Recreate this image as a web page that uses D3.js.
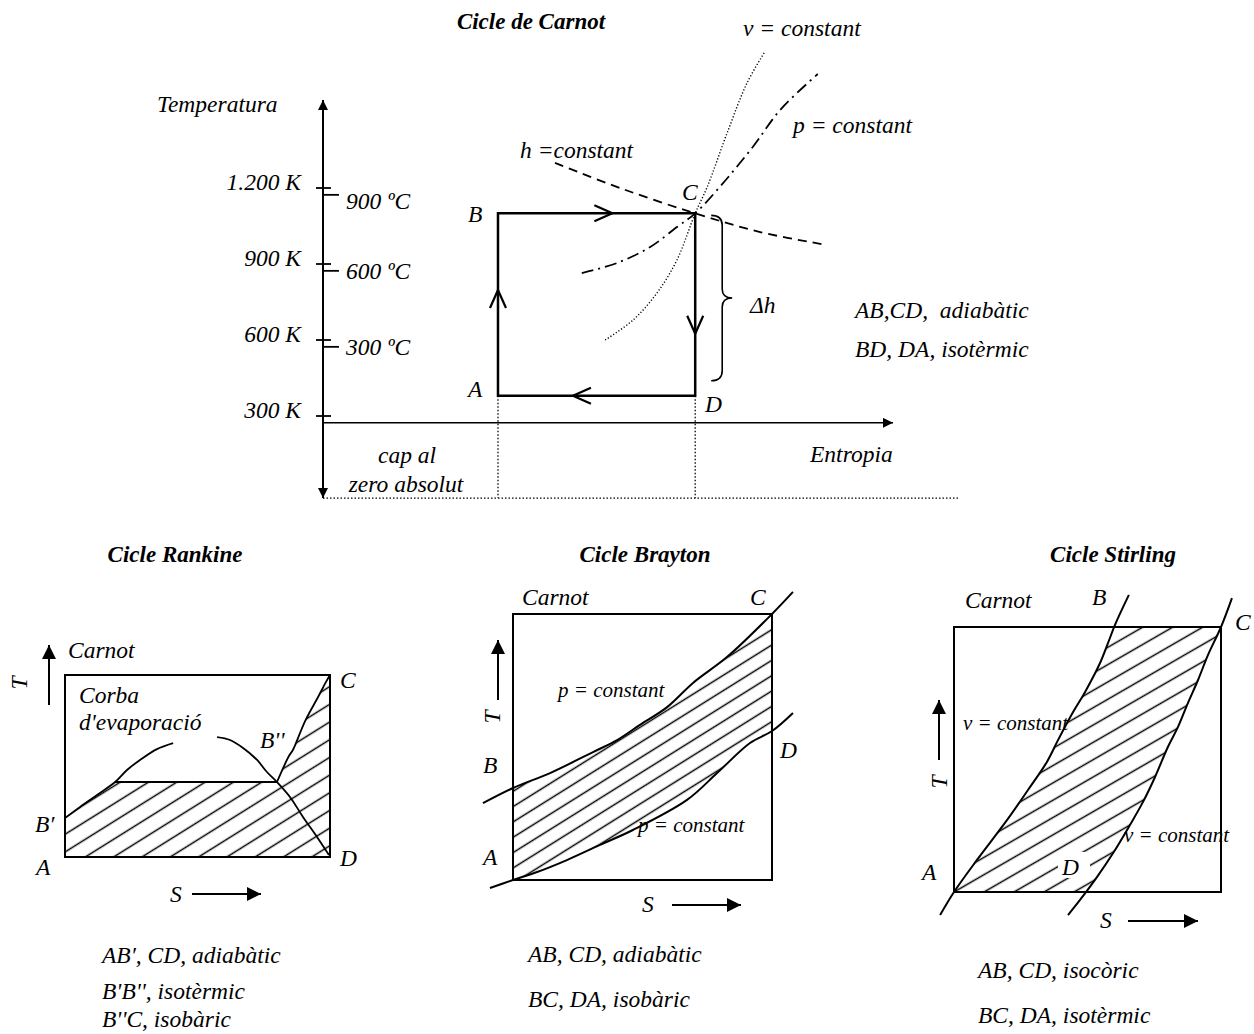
<!DOCTYPE html>
<html>
<head>
<meta charset="utf-8">
<script src="https://cdn.jsdelivr.net/npm/d3@7"></script>
<style>
body { margin: 0; background: #fff; }
text { font-family: "Liberation Serif", "Times New Roman", serif; font-style: italic; font-size: 23.5px; fill: #000; white-space: pre; }
.title { font-weight: bold; font-size: 23px; }
.small { font-size: 21px; }
</style>
</head>
<body>
<svg id="chart" width="1254" height="1034"></svg>
<script>
// ---- Carnot cycle (top): entropy in arbitrary units, temperature in K
var kelvinTicks = [1200, 900, 600, 300];
var kelvinLabels = ["1.200 K", "900 K", "600 K", "300 K"];
var celsiusTicks = [1173, 873, 573];
var celsiusLabels = ["900 ºC", "600 ºC", "300 ºC"];
var cycleS = [3.07, 6.53];          // A-B side, C-D side
var cycleT = [380, 1100];           // low (A,D), high (B,C)
var zeroCelsius = 273;
var hConstS = [4.07, 5.21, 6.53, 7.67, 8.84];
var hConstT = [1299, 1200, 1100, 1026, 975];
var pConstS = [4.54, 5.16, 5.74, 6.21, 6.53, 6.96, 7.54, 8.02, 8.68];
var pConstT = [864, 904, 967, 1046, 1100, 1204, 1362, 1508, 1650];
var vConstS = [4.95, 5.44, 5.86, 6.21, 6.53, 6.74, 7.09, 7.44, 7.75];
var vConstT = [600, 679, 786, 916, 1100, 1204, 1417, 1615, 1737];

// ---- Rankine (box = 0..10 x 0..10)
var rankLeftS = [0, 0.57, 1.21, 1.89, 2.34, 2.83, 3.47, 4.08];
var rankLeftT = [2.14, 2.75, 3.41, 4.12, 4.78, 5.33, 5.93, 6.26];
var rankRightS = [5.74, 6.23, 6.72, 7.25, 7.62, 8.0, 8.49, 8.98, 9.51, 9.96];
var rankRightT = [6.59, 6.43, 5.99, 5.33, 4.67, 4.12, 3.30, 2.20, 1.10, 0.11];
var rankSuperS = [8.0, 8.45, 8.6, 9.06, 9.55, 9.85, 10];
var rankSuperT = [4.12, 5.55, 5.88, 7.47, 8.79, 9.62, 10];
var rankIsoT = 4.12;

// ---- Brayton
var brayUpS = [-1.16, 0, 1.43, 3.09, 4.02, 4.90, 5.95, 6.95, 8.26, 10, 10.81];
var brayUpT = [2.89, 3.46, 4.02, 4.81, 5.26, 5.83, 6.50, 7.41, 8.38, 10, 10.83];
var brayLowS = [-0.89, 0, 0.93, 2.08, 3.36, 4.63, 6.72, 7.88, 9.15, 10, 10.81];
var brayLowT = [-0.30, 0, 0.30, 0.75, 1.32, 1.88, 3.01, 4.02, 5.15, 5.60, 6.28];

// ---- Stirling
var stirLeftS = [-0.52, 0, 0.86, 1.99, 2.77, 3.48, 3.90, 4.46, 4.91, 5.47, 5.77, 6.03, 6.55];
var stirLeftT = [-0.87, 0, 1.21, 2.72, 3.85, 4.91, 5.74, 6.79, 7.55, 8.64, 9.40, 10.08, 11.21];
var stirRightS = [4.27, 4.72, 5.36, 5.96, 6.59, 7.08, 7.53, 8.01, 8.39, 8.76, 9.14, 9.51, 10, 10.41];
var stirRightT = [-0.87, -0.30, 0.57, 1.47, 2.53, 3.40, 4.34, 5.47, 6.23, 7.13, 8.0, 8.94, 10, 11.09];

var svg = d3.select("#chart");
var defs = svg.append("defs");

function marker(id, len, wid) {
  defs.append("marker").attr("id", id)
      .attr("viewBox", "0 0 10 10").attr("refX", 10).attr("refY", 5)
      .attr("markerWidth", len).attr("markerHeight", wid)
      .attr("markerUnits", "userSpaceOnUse").attr("orient", "auto")
    .append("path").attr("d", "M0,0L10,5L0,10Z").attr("fill", "#000");
}
marker("tipS", 12, 10);
marker("tipB", 16, 14);

function hatch(id, angle, gap, ox, oy) {
  var p = defs.append("pattern").attr("id", id)
      .attr("patternUnits", "userSpaceOnUse")
      .attr("width", 400).attr("height", gap)
      .attr("patternTransform", "translate(" + ox + "," + oy + ") rotate(" + (-angle) + ") translate(0," + (-gap / 2) + ")");
  p.append("line").attr("x1", 0).attr("x2", 400).attr("y1", gap / 2).attr("y2", gap / 2)
      .attr("stroke", "#000").attr("stroke-width", 1.3);
}

function seg(g, x1, y1, x2, y2, w, dash, mk) {
  var l = g.append("line").attr("x1", x1).attr("y1", y1).attr("x2", x2).attr("y2", y2)
      .attr("stroke", "#000").attr("stroke-width", w);
  if (dash) l.attr("stroke-dasharray", dash);
  if (mk) l.attr("marker-end", "url(#" + mk + ")");
  return l;
}

function label(g, x, y, txt, cls, anchor) {
  return g.append("text").attr("x", x).attr("y", y).attr("class", cls || null)
      .attr("text-anchor", anchor || "start").text(txt);
}

// ================= Carnot =================
var gTop = svg.append("g");
var xS = d3.scaleLinear().domain([0, 10]).range([323, 893]);
var yT = d3.scaleLinear().domain([0, 1200]).range([492, 188]);

label(gTop, 531, 29, "Cicle de Carnot", "title", "middle");
label(gTop, 157, 112, "Temperatura");

// temperature axis (down to the absolute zero side) and entropy axis at 0 ºC
seg(gTop, xS(0), yT(-10), xS(0), 100, 2, null, "tipS");
seg(gTop, xS(0), yT(-10), xS(0), yT(-24), 2, null, "tipS");
seg(gTop, xS(0), yT(zeroCelsius), 893, yT(zeroCelsius), 1.5, null, "tipS");

gTop.selectAll(".kt").data(kelvinTicks).enter().append("line")
   .attr("x1", xS(0) - 7).attr("x2", xS(0) + 8)
   .attr("y1", function(d) { return yT(d) }).attr("y2", function(d) { return yT(d) })
   .attr("stroke", "#000").attr("stroke-width", 1.8);
gTop.selectAll(".kl").data(kelvinLabels).enter().append("text")
   .attr("x", 301).attr("text-anchor", "end")
   .attr("y", function(d, i) { return yT(kelvinTicks[i]) + 2 })
   .text(function(d) { return d });
gTop.selectAll(".ct").data(celsiusTicks).enter().append("line")
   .attr("x1", xS(0)).attr("x2", xS(0) + 16)
   .attr("y1", function(d) { return yT(d) }).attr("y2", function(d) { return yT(d) })
   .attr("stroke", "#000").attr("stroke-width", 1.8);
gTop.selectAll(".cl").data(celsiusLabels).enter().append("text")
   .attr("x", 346)
   .attr("y", function(d, i) { return yT(celsiusTicks[i]) + (i == 0 ? 14 : 8) })
   .text(function(d) { return d });

// dotted guides to the absolute zero
seg(gTop, xS(0), yT(-24), 960, yT(-24), 1.3, "1.5,2");
seg(gTop, xS(cycleS[0]), yT(cycleT[0]), xS(cycleS[0]), yT(-24), 1.3, "1.5,2");
seg(gTop, xS(cycleS[1]), yT(cycleT[0]), xS(cycleS[1]), yT(-24), 1.3, "1.5,2");
label(gTop, 407, 463, "cap al", null, "middle");
label(gTop, 406, 492, "zero absolut", null, "middle");
label(gTop, 810, 462, "Entropia");

// property curves through C
var lineST = d3.line().x(function(d) { return xS(d[0]) }).y(function(d) { return yT(d[1]) })
               .curve(d3.curveCatmullRom);
gTop.append("path").attr("d", lineST(d3.zip(hConstS, hConstT)))
   .attr("fill", "none").attr("stroke", "#000").attr("stroke-width", 1.8).attr("stroke-dasharray", "9,6");
gTop.append("path").attr("d", lineST(d3.zip(pConstS, pConstT)))
   .attr("fill", "none").attr("stroke", "#000").attr("stroke-width", 1.8).attr("stroke-dasharray", "12,5,2,5");
gTop.append("path").attr("d", lineST(d3.zip(vConstS, vConstT)))
   .attr("fill", "none").attr("stroke", "#000").attr("stroke-width", 1.4).attr("stroke-dasharray", "1.2,2");

// the cycle
var cyc = [[cycleS[0], cycleT[0]], [cycleS[0], cycleT[1]], [cycleS[1], cycleT[1]], [cycleS[1], cycleT[0]]];
gTop.append("path").attr("d", d3.line().x(function(d) { return xS(d[0]) }).y(function(d) { return yT(d[1]) })(cyc) + "Z")
   .attr("fill", "none").attr("stroke", "#000").attr("stroke-width", 2.5);

var chevrons = [
  { x: xS(cycleS[0] + 0.58 * (cycleS[1] - cycleS[0])), y: yT(cycleT[1]), r: 0 },
  { x: xS(cycleS[1]), y: yT(cycleT[1] - 0.66 * (cycleT[1] - cycleT[0])), r: 90 },
  { x: xS(cycleS[1] - 0.62 * (cycleS[1] - cycleS[0])), y: yT(cycleT[0]), r: 180 },
  { x: xS(cycleS[0]), y: yT(cycleT[0] + 0.58 * (cycleT[1] - cycleT[0])), r: 270 }
];
gTop.selectAll(".chev").data(chevrons).enter().append("path")
   .attr("d", "M-18,-8L0,0L-18,8")
   .attr("transform", function(d) { return "translate(" + d.x + "," + d.y + ") rotate(" + d.r + ")" })
   .attr("fill", "none").attr("stroke", "#000").attr("stroke-width", 2.2);

label(gTop, 468, 222, "B");
label(gTop, 468, 397, "A");
label(gTop, 682, 200, "C");
label(gTop, 705, 412, "D");
label(gTop, 520, 158, "h =constant");
label(gTop, 743, 36, "v = constant");
label(gTop, 793, 133, "p = constant");

// brace for delta h
var bx = xS(cycleS[1]) + 16, by1 = yT(cycleT[1]) + 2, by2 = yT(cycleT[0]) - 15, bm = (by1 + by2) / 2;
gTop.append("path")
   .attr("d", "M" + bx + "," + by1 + "Q" + (bx + 11) + "," + by1 + " " + (bx + 11) + "," + (by1 + 10) +
              "L" + (bx + 11) + "," + (bm - 9) + "Q" + (bx + 11) + "," + bm + " " + (bx + 21) + "," + bm +
              "Q" + (bx + 11) + "," + bm + " " + (bx + 11) + "," + (bm + 9) +
              "L" + (bx + 11) + "," + (by2 - 10) + "Q" + (bx + 11) + "," + by2 + " " + bx + "," + by2)
   .attr("fill", "none").attr("stroke", "#000").attr("stroke-width", 1.6);
label(gTop, 750, 313, "Δh");
label(gTop, 855, 318, "AB,CD,  adiabàtic");
label(gTop, 855, 357, "BD, DA, isotèrmic");

// ================= small panels =================
function panel(x0, y0, w, h) {
  return {
    x: d3.scaleLinear().domain([0, 10]).range([x0, x0 + w]),
    y: d3.scaleLinear().domain([0, 10]).range([y0 + h, y0]),
    x0: x0, y0: y0, w: w, h: h
  };
}
function curveOf(p, S, T) {
  return d3.line().x(function(d) { return p.x(d[0]) }).y(function(d) { return p.y(d[1]) })
           .curve(d3.curveCatmullRom)(d3.zip(S, T));
}
function polyOf(p, pts) {
  return d3.line().x(function(d) { return p.x(d[0]) }).y(function(d) { return p.y(d[1]) })(pts) + "Z";
}
function box(g, p) {
  g.append("rect").attr("x", p.x0).attr("y", p.y0).attr("width", p.w).attr("height", p.h)
   .attr("fill", "none").attr("stroke", "#000").attr("stroke-width", 2);
}
function tLabel(g, x, y) {
  g.append("text").attr("transform", "translate(" + x + "," + y + ") rotate(-90)")
   .attr("text-anchor", "middle").text("T");
}
function stroke(path, w) { return path.attr("fill", "none").attr("stroke", "#000").attr("stroke-width", w); }

// ---- Rankine
var rk = panel(65, 675, 265, 182);
var gR = svg.append("g");
hatch("hR", 32, 15, rk.x(0), rk.y(0) - 5);
var rRegion = [[0, 0]];
d3.zip(rankLeftS, rankLeftT).forEach(function(d) { if (d[1] <= rankIsoT) rRegion.push(d) });
d3.zip(rankSuperS, rankSuperT).forEach(function(d) { rRegion.push(d) });
rRegion.push([10, 0]);
gR.append("path").attr("d", polyOf(rk, rRegion)).attr("fill", "url(#hR)");
box(gR, rk);
stroke(gR.append("path").attr("d", curveOf(rk, rankLeftS, rankLeftT)), 1.8);
stroke(gR.append("path").attr("d", curveOf(rk, rankRightS, rankRightT)), 1.8);
stroke(gR.append("path").attr("d", curveOf(rk, rankSuperS, rankSuperT)), 1.8);
seg(gR, rk.x(1.89), rk.y(rankIsoT), rk.x(8.0), rk.y(rankIsoT), 2);
label(gR, 175, 562, "Cicle Rankine", "title", "middle");
seg(gR, 49, 705, 49, 645, 2, null, "tipB");
tLabel(gR, 27, 683);
label(gR, 68, 658, "Carnot");
label(gR, 79, 703, "Corba");
label(gR, 79, 730, "d'evaporació");
label(gR, 260, 748, "B''");
label(gR, 35, 832, "B′");
label(gR, 36, 875, "A");
label(gR, 340, 688, "C");
label(gR, 340, 866, "D");
label(gR, 170, 902, "S");
seg(gR, 192, 894, 261, 894, 2, null, "tipB");
label(gR, 102, 963, "AB′, CD, adiabàtic");
label(gR, 102, 999, "B'B'', isotèrmic");
label(gR, 102, 1027, "B''C, isobàric");

// ---- Brayton
var br = panel(513, 614, 259, 266);
var gB = svg.append("g");
defs.append("clipPath").attr("id", "cB").append("rect")
    .attr("x", br.x0).attr("y", br.y0).attr("width", br.w).attr("height", br.h);
hatch("hB", 32, 13, br.x(0), br.y(0) - 12);
var bBand = d3.zip(brayUpS, brayUpT).concat(d3.zip(brayLowS, brayLowT).reverse());
gB.append("g").attr("clip-path", "url(#cB)")
  .append("path").attr("d", polyOf(br, bBand)).attr("fill", "url(#hB)");
box(gB, br);
stroke(gB.append("path").attr("d", curveOf(br, brayUpS, brayUpT)), 2);
stroke(gB.append("path").attr("d", curveOf(br, brayLowS, brayLowT)), 2);
label(gB, 645, 562, "Cicle Brayton", "title", "middle");
label(gB, 522, 605, "Carnot");
label(gB, 750, 605, "C");
label(gB, 558, 697, "p = constant", "small");
label(gB, 638, 832, "p = constant", "small");
seg(gB, 498, 700, 498, 640, 2, null, "tipB");
tLabel(gB, 500, 717);
label(gB, 483, 773, "B");
label(gB, 483, 865, "A");
label(gB, 780, 758, "D");
label(gB, 642, 912, "S");
seg(gB, 672, 905, 741, 905, 2, null, "tipB");
label(gB, 528, 962, "AB, CD, adiabàtic");
label(gB, 528, 1007, "BC, DA, isobàric");

// ---- Stirling
var st = panel(954, 627, 267, 265);
var gS = svg.append("g");
defs.append("clipPath").attr("id", "cS").append("rect")
    .attr("x", st.x0).attr("y", st.y0).attr("width", st.w).attr("height", st.h);
hatch("hS", 30, 15, st.x(0), st.y(0));
var sBand = d3.zip(stirLeftS, stirLeftT).concat(d3.zip(stirRightS, stirRightT).reverse());
gS.append("g").attr("clip-path", "url(#cS)")
  .append("path").attr("d", polyOf(st, sBand)).attr("fill", "url(#hS)");
gS.append("rect").attr("x", 1058).attr("y", 852).attr("width", 32).attr("height", 26).attr("fill", "#fff");
box(gS, st);
stroke(gS.append("path").attr("d", curveOf(st, stirLeftS, stirLeftT)), 2);
stroke(gS.append("path").attr("d", curveOf(st, stirRightS, stirRightT)), 2);
label(gS, 1113, 562, "Cicle Stirling", "title", "middle");
label(gS, 965, 608, "Carnot");
label(gS, 1092, 605, "B");
label(gS, 1235, 630, "C");
label(gS, 963, 730, "v = constant", "small");
label(gS, 1124, 842, "v = constant", "small");
seg(gS, 939, 760, 939, 700, 2, null, "tipB");
tLabel(gS, 947, 782);
label(gS, 922, 880, "A");
label(gS, 1062, 875, "D");
label(gS, 1100, 928, "S");
seg(gS, 1128, 921, 1198, 921, 2, null, "tipB");
label(gS, 978, 978, "AB, CD, isocòric");
label(gS, 978, 1023, "BC, DA, isotèrmic");
</script>
</body>
</html>
